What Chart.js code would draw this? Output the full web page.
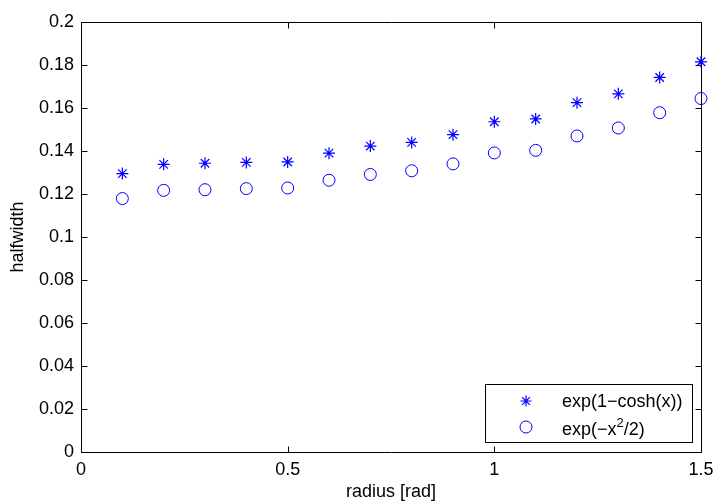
<!DOCTYPE html>
<html>
<head>
<meta charset="utf-8">
<script src="https://cdn.jsdelivr.net/npm/chart.js@4/dist/chart.umd.min.js"></script>
<style>
  html, body { margin: 0; padding: 0; background: #ffffff; }
  canvas { display: block; }
</style>
</head>
<body>
<canvas id="c" width="715" height="503"></canvas>
<script>
// ---- data ----
const xValues = [0.1, 0.2, 0.3, 0.4, 0.5, 0.6, 0.7, 0.8, 0.9, 1.0, 1.1, 1.2, 1.3, 1.4, 1.5];
const coshSeries = [0.1295, 0.1338, 0.1343, 0.1347, 0.1349, 0.1390, 0.1423, 0.1440, 0.1476, 0.1536, 0.1549, 0.1625, 0.1666, 0.1742, 0.1815];
const gaussSeries = [0.1179, 0.1217, 0.1220, 0.1225, 0.1228, 0.1264, 0.1291, 0.1308, 0.1340, 0.1391, 0.1403, 0.1470, 0.1507, 0.1578, 0.1644];
const xTickLabels = ['0', '0.5', '1', '1.5'];
const yTickLabels = ['0', '0.02', '0.04', '0.06', '0.08', '0.1', '0.12', '0.14', '0.16', '0.18', '0.2'];
const seriesNames = ['exp(1\u2212cosh(x))', 'exp(\u2212x', '2', '/2)'];
const xTitle = 'radius [rad]';
const yTitle = 'halfwidth';

const FONT = '"Liberation Sans", Arial, Helvetica, sans-serif';
const BLUE = 'rgb(0,0,255)';

const toPoints = s => xValues.map((x, i) => ({ x: x, y: s[i] }));

function drawStar(ctx, x, y, r) {
  ctx.beginPath();
  for (let k = 0; k < 4; k++) {
    const a = k * Math.PI / 4;
    ctx.moveTo(x - Math.cos(a) * r, y - Math.sin(a) * r);
    ctx.lineTo(x + Math.cos(a) * r, y + Math.sin(a) * r);
  }
  ctx.stroke();
}

const boxPlugin = {
  id: 'matlabBox',
  beforeDraw(chart) {
    const ctx = chart.ctx;
    ctx.save();
    ctx.fillStyle = '#ffffff';
    ctx.fillRect(0, 0, chart.width, chart.height);
    ctx.restore();
  },
  beforeDatasetsDraw(chart) {
    const { ctx, chartArea: a, scales } = chart;
    const L = Math.round(a.left) + 0.5, R = Math.round(a.right) + 0.5;
    const T = Math.round(a.top) + 0.5, B = Math.round(a.bottom) + 0.5;
    const tl = 6;
    ctx.save();
    ctx.strokeStyle = '#000000';
    ctx.lineWidth = 1;
    ctx.beginPath();
    ctx.rect(L, T, R - L, B - T);
    ctx.stroke();
    ctx.beginPath();
    scales.x.ticks.forEach(t => {
      const px = Math.round(scales.x.getPixelForValue(t.value)) + 0.5;
      ctx.moveTo(px, B); ctx.lineTo(px, B - tl);
      ctx.moveTo(px, T); ctx.lineTo(px, T + tl);
    });
    scales.y.ticks.forEach(t => {
      const py = Math.round(scales.y.getPixelForValue(t.value)) + 0.5;
      ctx.moveTo(L, py); ctx.lineTo(L + tl, py);
      ctx.moveTo(R, py); ctx.lineTo(R - tl, py);
    });
    ctx.stroke();
    ctx.restore();
  },
  afterDraw(chart) {
    const ctx = chart.ctx;
    // legend box
    const bx = 485.5, by = 384.5, bw = 207, bh = 58;
    ctx.save();
    ctx.fillStyle = '#ffffff';
    ctx.fillRect(bx, by, bw, bh);
    ctx.strokeStyle = '#000000';
    ctx.lineWidth = 1;
    ctx.strokeRect(bx, by, bw, bh);
    // markers
    ctx.strokeStyle = BLUE;
    ctx.lineWidth = 1.2;
    drawStar(ctx, 526, 401, 5.5);
    ctx.lineWidth = 1;
    ctx.beginPath();
    ctx.arc(526, 427, 6, 0, Math.PI * 2);
    ctx.stroke();
    // text
    ctx.fillStyle = '#000000';
    ctx.textBaseline = 'middle';
    ctx.textAlign = 'left';
    ctx.font = '18px ' + FONT;
    ctx.fillText(seriesNames[0], 562, 402);
    let x = 562;
    ctx.fillText(seriesNames[1], x, 430);
    x += ctx.measureText(seriesNames[1]).width;
    ctx.font = '13px ' + FONT;
    ctx.fillText(seriesNames[2], x, 423);
    x += ctx.measureText(seriesNames[2]).width;
    ctx.font = '18px ' + FONT;
    ctx.fillText(seriesNames[3], x, 430);
    ctx.restore();
  }
};

const tickFont = { family: FONT, size: 18, lineHeight: 1.2 };
const titleFont = { family: FONT, size: 18, lineHeight: 1 };

new Chart(document.getElementById('c'), {
  type: 'scatter',
  data: {
    datasets: [
      {
        label: seriesNames[0],
        data: toPoints(coshSeries),
        pointStyle: 'star',
        radius: 6,
        borderColor: BLUE,
        backgroundColor: BLUE,
        borderWidth: 1.2,
        clip: false
      },
      {
        label: 'exp(\u2212x\u00b2/2)',
        data: toPoints(gaussSeries),
        pointStyle: 'circle',
        radius: 6,
        borderColor: BLUE,
        backgroundColor: 'rgba(0,0,0,0)',
        borderWidth: 1,
        clip: false
      }
    ]
  },
  options: {
    responsive: false,
    animation: false,
    devicePixelRatio: 1,
    layout: { padding: { left: 0, top: 22, right: 14, bottom: 0 } },
    plugins: { legend: { display: false }, tooltip: { enabled: false } },
    scales: {
      x: {
        type: 'linear',
        min: 0, max: 1.5,
        grid: { display: false, drawTicks: false },
        border: { display: false },
        ticks: {
          stepSize: 0.5,
          padding: 7,
          color: '#000000',
          font: tickFont,
          maxRotation: 0,
          autoSkip: false,
          callback: (v, i) => xTickLabels[i]
        },
        title: { display: true, text: xTitle, color: '#000000', font: titleFont, padding: { top: 0, bottom: 2 } },
        afterFit: s => { s.height = 51; s.paddingLeft = 0; s.paddingRight = 0; }
      },
      y: {
        type: 'linear',
        min: 0, max: 0.2,
        grid: { display: false, drawTicks: false },
        border: { display: false },
        ticks: {
          stepSize: 0.02,
          padding: 7,
          color: '#000000',
          font: tickFont,
          autoSkip: false,
          callback: (v, i) => yTickLabels[i]
        },
        title: { display: true, text: yTitle, color: '#000000', font: titleFont, padding: { top: 9, bottom: 0 } },
        afterFit: s => { s.width = 81; s.paddingTop = 0; s.paddingBottom = 0; }
      }
    }
  },
  plugins: [boxPlugin]
});
</script>
</body>
</html>
